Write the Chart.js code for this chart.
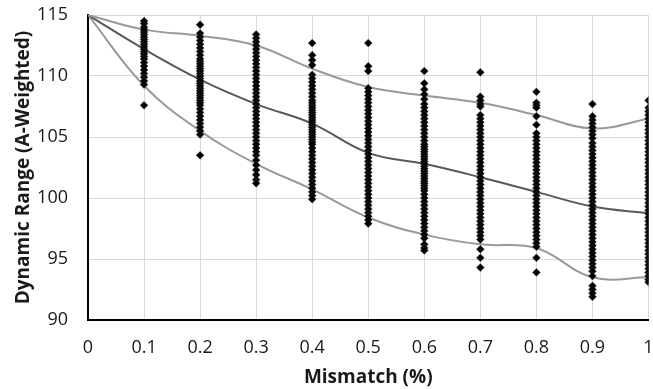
<!DOCTYPE html>
<html>
<head>
<meta charset="utf-8">
<script src="https://cdn.jsdelivr.net/npm/chart.js@4"></script>
<style>
  html, body { margin: 0; padding: 0; background: #fff; overflow: hidden; }
</style>
</head>
<body>
<canvas id="c" width="653" height="389"></canvas>
<script>
// mismatch (%) positions of the curves
const mismatch = [0, 0.1, 0.2, 0.3, 0.4, 0.5, 0.6, 0.7, 0.8, 0.9, 1];
const meanLine  = [115, 112.2, 109.7, 107.7, 106.1, 103.7, 102.8, 101.7, 100.5, 99.3, 98.75];
const upperLine = [115, 113.8, 113.3, 112.5, 110.6, 109.1, 108.4, 107.8, 106.8, 105.7, 106.5];
const lowerLine = [115, 109.2, 105.5, 102.8, 100.7, 98.4, 97.0, 96.2, 95.9, 93.5, 93.5];

// scatter columns
const colX = [0.1, 0.2, 0.3, 0.4, 0.5, 0.6, 0.7, 0.8, 0.9, 1];
const y01 = [114.5, 114.3, 114.0, 113.8, 113.6, 113.4, 113.2, 113.0, 112.8, 112.6, 112.4, 112.2, 112.0, 111.8, 111.6, 111.4, 111.1, 110.8, 110.5, 110.2, 109.9, 109.6, 109.3, 107.6];
const y02 = [114.2, 113.5, 113.2, 112.9, 112.6, 112.3, 112.0, 111.7, 111.4, 111.2, 111.0, 110.8, 110.6, 110.4, 110.2, 110.0, 109.8, 109.6, 109.4, 109.2, 109.0, 108.8, 108.6, 108.4, 108.2, 108.0, 107.8, 107.6, 107.3, 107.0, 106.7, 106.4, 106.1, 105.8, 105.5, 105.2, 103.5];
const y03 = [113.4, 113.1, 112.8, 112.5, 112.2, 111.9, 111.6, 111.3, 111.0, 110.7, 110.4, 110.1, 109.8, 109.5, 109.2, 108.9, 108.6, 108.3, 108.0, 107.7, 107.4, 107.1, 106.8, 106.5, 106.2, 105.9, 105.6, 105.3, 105.0, 104.7, 104.4, 104.1, 103.8, 103.5, 103.1, 102.7, 102.3, 101.9, 101.5, 101.2];
const y04 = [112.7, 111.7, 111.3, 110.9, 110.1, 109.8, 109.5, 109.2, 108.9, 108.6, 108.3, 108.0, 107.8, 107.6, 107.4, 107.2, 107.0, 106.8, 106.6, 106.4, 106.2, 106.0, 105.8, 105.6, 105.4, 105.2, 105.0, 104.8, 104.6, 104.4, 104.1, 103.8, 103.5, 103.2, 102.9, 102.6, 102.3, 102.0, 101.7, 101.4, 101.1, 100.8, 100.5, 100.2, 99.9];
const y05 = [112.7, 110.8, 110.4, 109.0, 108.7, 108.4, 108.1, 107.8, 107.5, 107.2, 106.9, 106.6, 106.3, 106.0, 105.7, 105.4, 105.1, 104.8, 104.5, 104.2, 103.9, 103.6, 103.3, 103.0, 102.7, 102.4, 102.1, 101.8, 101.5, 101.2, 100.9, 100.6, 100.3, 100.0, 99.7, 99.4, 99.1, 98.8, 98.5, 98.2, 97.9];
const y06 = [110.4, 109.4, 108.9, 108.5, 108.1, 107.7, 107.4, 107.1, 106.8, 106.5, 106.2, 105.9, 105.6, 105.3, 105.0, 104.7, 104.4, 104.2, 104.0, 103.8, 103.6, 103.4, 103.2, 103.0, 102.8, 102.6, 102.4, 102.2, 102.0, 101.8, 101.6, 101.4, 101.2, 101.0, 100.8, 100.6, 100.3, 100.0, 99.7, 99.4, 99.1, 98.8, 98.5, 98.2, 97.9, 97.6, 97.3, 97.0, 96.7, 96.2, 95.9, 95.7];
const y07 = [110.3, 108.3, 108.0, 107.7, 107.5, 106.8, 106.5, 106.2, 105.9, 105.6, 105.3, 105.0, 104.7, 104.4, 104.1, 103.8, 103.5, 103.2, 102.9, 102.6, 102.3, 102.0, 101.7, 101.4, 101.1, 100.8, 100.5, 100.2, 99.9, 99.6, 99.3, 99.0, 98.7, 98.4, 98.1, 97.8, 97.5, 97.2, 96.9, 96.6, 95.8, 95.1, 94.3];
const y08 = [108.7, 107.8, 107.6, 107.4, 106.7, 106.0, 105.3, 105.0, 104.7, 104.4, 104.1, 103.8, 103.5, 103.2, 102.9, 102.6, 102.3, 102.0, 101.7, 101.4, 101.1, 100.8, 100.5, 100.2, 99.9, 99.6, 99.3, 99.0, 98.7, 98.4, 98.1, 97.8, 97.5, 97.2, 96.9, 96.6, 96.3, 96.0, 95.1, 93.9];
const y09 = [107.7, 106.7, 106.4, 106.1, 105.8, 105.5, 105.2, 104.9, 104.5, 104.2, 103.9, 103.6, 103.3, 103.0, 102.7, 102.4, 102.1, 101.8, 101.5, 101.2, 100.9, 100.6, 100.3, 100.0, 99.7, 99.4, 99.1, 98.8, 98.5, 98.2, 97.9, 97.6, 97.3, 97.0, 96.7, 96.4, 96.1, 95.8, 95.5, 95.2, 94.9, 94.6, 94.3, 94.0, 93.6, 92.8, 92.5, 92.2, 91.9];
const y10 = [108.0, 107.4, 107.1, 106.8, 106.5, 106.2, 105.9, 105.6, 105.3, 105.0, 104.7, 104.4, 104.1, 103.8, 103.5, 103.2, 102.9, 102.6, 102.3, 102.0, 101.7, 101.4, 101.1, 100.8, 100.5, 100.2, 99.9, 99.6, 99.3, 99.0, 98.7, 98.4, 98.1, 97.8, 97.5, 97.2, 96.9, 96.6, 96.3, 96.0, 95.7, 95.4, 95.1, 94.8, 94.5, 94.2, 93.9, 93.6, 93.3, 93.1];
const columns = [y01, y02, y03, y04, y05, y06, y07, y08, y09, y10];

const xTicks = [0, 0.1, 0.2, 0.3, 0.4, 0.5, 0.6, 0.7, 0.8, 0.9, 1];
const yTicks = [90, 95, 100, 105, 110, 115];

const scatterPts = columns.flatMap((ys, i) => ys.map(y => ({ x: colX[i], y: y })));
const toXY = arr => arr.map((y, i) => ({ x: mismatch[i], y: y }));

const tickFont = { family: "'Open Sans', sans-serif", size: 18 };
const titleFont = { family: "'Open Sans', sans-serif", size: 19, weight: 'bold' };

// keep the plot box where the picture has it: no automatic label padding
function noPad(s) {
  s.paddingLeft = 0; s.paddingRight = 0; s.paddingTop = 0; s.paddingBottom = 0;
}

new Chart(document.getElementById('c'), {
  type: 'scatter',
  data: {
    datasets: [
      {
        label: 'runs',
        data: scatterPts,
        pointStyle: 'rectRot',
        pointRadius: 3.9,
        backgroundColor: '#000',
        borderColor: '#333',
        borderWidth: 0.5,
        order: 0
      },
      {
        type: 'line', label: 'upper', data: toXY(upperLine),
        borderColor: '#999999', borderWidth: 2, pointRadius: 0, tension: 0.4, fill: false, order: 1
      },
      {
        type: 'line', label: 'mean', data: toXY(meanLine),
        borderColor: '#595959', borderWidth: 2, pointRadius: 0, tension: 0.4, fill: false, order: 1
      },
      {
        type: 'line', label: 'lower', data: toXY(lowerLine),
        borderColor: '#999999', borderWidth: 2, pointRadius: 0, tension: 0.4, fill: false, order: 1
      }
    ]
  },
  options: {
    responsive: false,
    animation: false,
    layout: { padding: { left: 12, top: 15, right: 1, bottom: 0 } },
    plugins: { legend: { display: false }, tooltip: { enabled: false } },
    scales: {
      x: {
        type: 'linear',
        min: 0, max: 1,
        afterBuildTicks: s => { s.ticks = xTicks.map(v => ({ value: v })); },
        afterFit: s => { s.height = 69; noPad(s); },
        grid: { color: '#d9d9d9', lineWidth: 1, drawTicks: false },
        border: { color: '#000', width: 2 },
        ticks: {
          color: '#1a1a1a', font: tickFont, padding: 17, maxRotation: 0,
          callback: v => String(Math.round(v * 10) / 10)
        },
        title: { display: true, text: 'Mismatch (%)', color: '#1a1a1a', font: titleFont, padding: { top: 0, bottom: 0 } }
      },
      y: {
        type: 'linear',
        min: 90, max: 115,
        afterBuildTicks: s => { s.ticks = yTicks.map(v => ({ value: v })); },
        afterFit: s => { s.width = 76; noPad(s); },
        grid: { color: '#d9d9d9', lineWidth: 1, drawTicks: false },
        border: { color: '#000', width: 2 },
        ticks: { color: '#1a1a1a', font: tickFont, padding: 20 },
        title: { display: true, text: 'Dynamic Range (A-Weighted)', color: '#1a1a1a', font: titleFont, padding: { top: 0, bottom: 0 } }
      }
    }
  }
});
</script>
</body>
</html>
